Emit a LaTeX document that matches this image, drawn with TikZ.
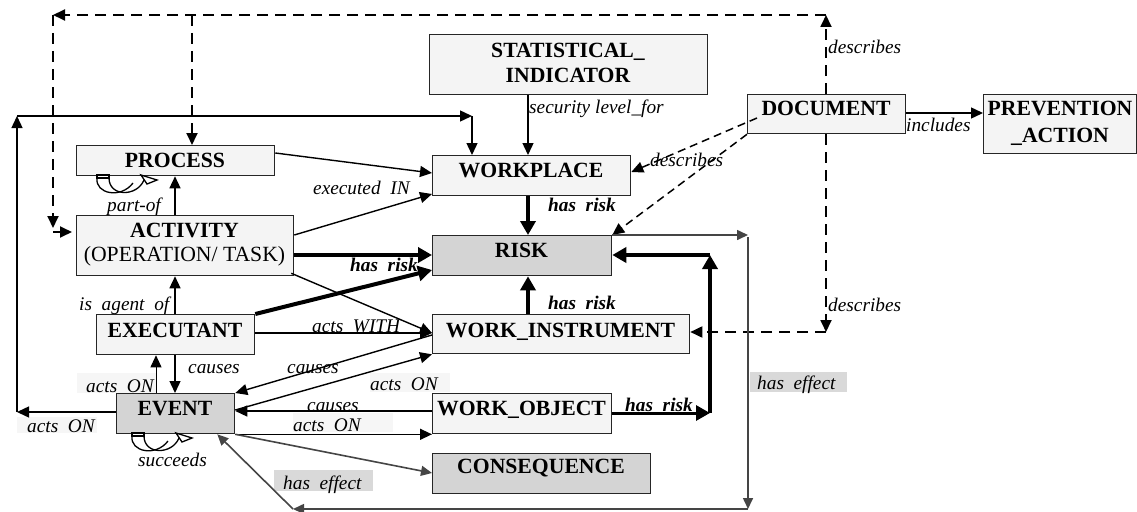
\documentclass[tikz,border=0pt]{standalone}
\usepackage{fontspec}
\setmainfont{Liberation Serif}
\usetikzlibrary{arrows.meta}
\definecolor{lightfill}{HTML}{F4F4F4}
\definecolor{darkfill}{HTML}{D4D4D4}
\definecolor{effbg}{HTML}{D9D9D9}
\definecolor{faintbg}{HTML}{F6F6F6}
\definecolor{linegray}{HTML}{454545}
\newcommand\boxfont{\fontsize{21.7}{24}\selectfont\bfseries}
\newcommand\lblfont{\fontsize{19.3}{22}\selectfont\itshape}
\newcommand\loopshape{%
  \draw[line width=1.3pt,fill=white] (0,0) rectangle (12,3);
  \draw[line width=1.3pt] (0,3) .. controls (-2,19) and (24,24) .. (36,8);
  \draw[line width=1.3pt] (12,3) .. controls (12,22) and (40,22) .. (47,5);
  \draw[line width=1.3pt,fill=white] (44,0) -- (60,5) -- (50,9) -- cycle;
}
\begin{document}
\begin{tikzpicture}[x=1pt,y=-1pt,
  box/.style={draw=black!85,line width=1.3pt,fill=lightfill,inner sep=0pt,anchor=north west},
  darkbox/.style={box,fill=darkfill},
  btext/.style={anchor=base,font=\boxfont,inner sep=0pt},
  lbl/.style={anchor=base west,font=\lblfont,inner sep=0pt},
  blbl/.style={anchor=base west,font=\lblfont\bfseries,inner sep=0pt},
  conn/.style={line width=1.4pt,-{Triangle[length=12pt,width=11pt]}},
  thk/.style={line width=4pt,-{Triangle[length=14pt,width=15pt]}},
  gconn/.style={draw=linegray,line width=1.6pt,-{Triangle[length=11pt,width=10pt]}},
  dsh/.style={line width=1.8pt,dash pattern=on 11pt off 7pt,-{Triangle[length=12pt,width=11pt]}},
  dshs/.style={line width=1.5pt,dash pattern=on 8pt off 5pt,-{Triangle[length=12pt,width=11pt]}},
]
\useasboundingbox (0,0) rectangle (1137,511);

% label backgrounds
\fill[faintbg] (77,373) rectangle (156,393);
\fill[faintbg] (370,373) rectangle (450,392);
\fill[faintbg] (293,413) rectangle (393,432);
\fill[faintbg] (17,417) rectangle (97,433);
\fill[effbg] (750,372) rectangle (847,392);
\fill[effbg] (274,470) rectangle (373,491);

% boxes
\node[box,minimum width=198pt,minimum height=30pt] (proc) at (76,145) {};
\node[box,minimum width=278pt,minimum height=60pt] (stat) at (429,34) {};
\node[box,minimum width=198pt,minimum height=40pt] (wp) at (432,155) {};
\node[box,minimum width=158pt,minimum height=39pt] (doc) at (747,94) {};
\node[box,minimum width=153pt,minimum height=59pt] (prev) at (983,94) {};
\node[box,minimum width=217pt,minimum height=60pt] (act) at (76,215) {};
\node[box,minimum width=158pt,minimum height=40pt] (exe) at (96,314) {};
\node[darkbox,minimum width=179pt,minimum height=40pt] (risk) at (432,235) {};
\node[box,minimum width=257pt,minimum height=39pt] (wi) at (432,314) {};
\node[darkbox,minimum width=118pt,minimum height=40pt] (ev) at (116,393) {};
\node[box,minimum width=179pt,minimum height=40pt] (wo) at (432,393) {};
\node[darkbox,minimum width=218pt,minimum height=40pt] (cons) at (432,453) {};

% box texts
\node[btext] (tproc) at (175,167) {PROCESS};
\node[btext] (tstat1) at (568,57) {STATISTICAL\_};
\node[btext] (tstat2) at (568,82) {INDICATOR};
\node[btext] (twp) at (531,177) {WORKPLACE};
\node[btext] (tdoc) at (826,115) {DOCUMENT};
\node[btext] (tprev1) at (1060,115) {PREVENTION};
\node[btext] (tprev2) at (1060,142) {\_ACTION};
\node[btext] (tact1) at (184.5,237) {ACTIVITY};
\node[btext,font=\fontsize{21.7}{24}\selectfont] (tact2) at (184.5,261.5) {(OPERATION/ TASK)};
\node[btext] (texe) at (175,337) {EXECUTANT};
\node[btext] (trisk) at (521.5,257) {RISK};
\node[btext] (twi) at (560.5,337) {WORK\_INSTRUMENT};
\node[btext] (tev) at (175,415) {EVENT};
\node[btext] (two) at (521.5,415) {WORK\_OBJECT};
\node[btext] (tcons) at (541,473) {CONSEQUENCE};

% dashed "describes" connectors
\coordinate (tr) at (826,15);
\coordinate (tl) at (53,15);
\coordinate (lc) at (53,232);
\coordinate (br) at (826,332);
\draw[dsh] (doc.north -| tr) -- (tr);
\draw[dsh] (tr) -- (tl);
\draw[dsh] (tl) -- (53,228);
\draw[dsh] (lc) -- ([xshift=-4pt]act.west |- lc);
\draw[dsh] (192,15) -- (proc.north -| 192,0);
\draw[dsh] (doc.south -| br) -- (br);
\draw[dsh] (br) -- (wi.east |- br);
\draw[dshs] (757,118) -- (wp.east |- 0,172);
\draw[dshs] (doc.south west) -- (risk.north east);

% plain connectors
\draw[conn] (stat.south -| 528,0) -- (wp.north -| 528,0);
\draw[conn] (doc.east |- 0,113) -- (prev.west |- 0,113);

\coordinate (el) at (17,412);
\coordinate (ul) at (17,116);
\coordinate (ur) at (472,116);
\draw[conn] (ev.west |- el) -- (el);
\draw[conn] (el) -- (ul);
\draw[conn] (ul) -- (ur);
\draw[conn] (ur) -- (wp.north -| ur);

\draw[conn] (proc.east |- 0,153) -- (wp.west |- 0,173);
\draw[conn] (act.east |- 0,235) -- (wp.west |- 0,194);
\draw[thk] (act.east |- 0,255) -- (risk.west |- 0,255);
\draw[conn] ([shift={(-3,-3)}]act.south east) -- (wi.west |- 0,333);
\draw[thk] (exe.north east) -- (risk.west |- 0,270);
\draw[conn] (exe.east |- 0,333) -- (wi.west |- 0,333);
\draw[conn] (wi.west |- 0,335) -- (ev.north east);
\draw[conn] (ev.east |- 0,410) -- (wi.south west);
\draw[conn] (wo.west |- 0,411) -- (ev.east |- 0,411);
\draw[conn] (ev.south east) -- (wo.south west);
\draw[gconn] (ev.south east) -- (cons.west |- 0,473);
\draw[conn,line width=0.9pt] (ev.north -| 156,0) -- (exe.south -| 156,0);
\draw[conn] (exe.south -| 175,0) -- (ev.north -| 175,0);
\draw[conn] (exe.north -| 175,0) -- (act.south -| 175,0);
\draw[conn] (act.north -| 175,0) -- (proc.south -| 175,0);
\draw[thk] (wp.south -| 528,0) -- (risk.north -| 528,0);
\draw[thk] (wi.north -| 528,0) -- (risk.south -| 528,0);

\coordinate (wr1) at (710,413);
\coordinate (wr2) at (710,255);
\draw[thk,line width=3pt] (wo.east |- wr1) -- (wr1);
\draw[thk] (wr1) -- (wr2);
\draw[thk] (wr2) -- (risk.east |- wr2);

\coordinate (g1) at (748,233);
\coordinate (g2) at (748,509);
\coordinate (g3) at (293,509);
\draw[gconn] (risk.north east) -- (g1 |- risk.north east);
\draw[gconn] (748,237) -- (g2);
\draw[gconn] (g2) -- (g3);
\draw[gconn] (g3) -- ([xshift=-18pt]ev.south east);

% self loops
\begin{scope}[shift={(97,175)}]\loopshape\end{scope}
\begin{scope}[shift={(132,433)}]\loopshape\end{scope}

% labels
\node[lbl] (l1) at (529,113) {security level\_for};
\node[lbl] (l2) at (828,53) {describes};
\node[lbl] (l3) at (906,131) {includes};
\node[lbl] (l4) at (650,166) {describes};
\node[lbl] (l5) at (313,194) {executed~~IN};
\node[blbl] (l6) at (548,211) {has~~risk};
\node[blbl] (l7) at (350,271) {has~~risk};
\node[blbl] (l8) at (548,309) {has~~risk};
\node[blbl] (l9) at (625,411) {has~~risk};
\node[lbl] (l10) at (107,211) {part-of};
\node[lbl] (l11) at (79,310) {is~~agent~~of};
\node[lbl] (l12) at (312,332) {acts~~WITH};
\node[lbl] (l13) at (188,373) {causes};
\node[lbl] (l14) at (287,373) {causes};
\node[lbl] (l15) at (307,411) {causes};
\node[lbl] (l16) at (86,392) {acts~~ON};
\node[lbl] (l17) at (370,390) {acts~~ON};
\node[lbl] (l18) at (27,432) {acts~~ON};
\node[lbl] (l19) at (293,431) {acts~~ON};
\node[lbl] (l20) at (138,466) {succeeds};
\node[lbl] (l21) at (757,389) {has~~effect};
\node[lbl] (l22) at (283,489) {has~~effect};
\node[lbl] (l23) at (828,311) {describes};
\end{tikzpicture}
\end{document}
